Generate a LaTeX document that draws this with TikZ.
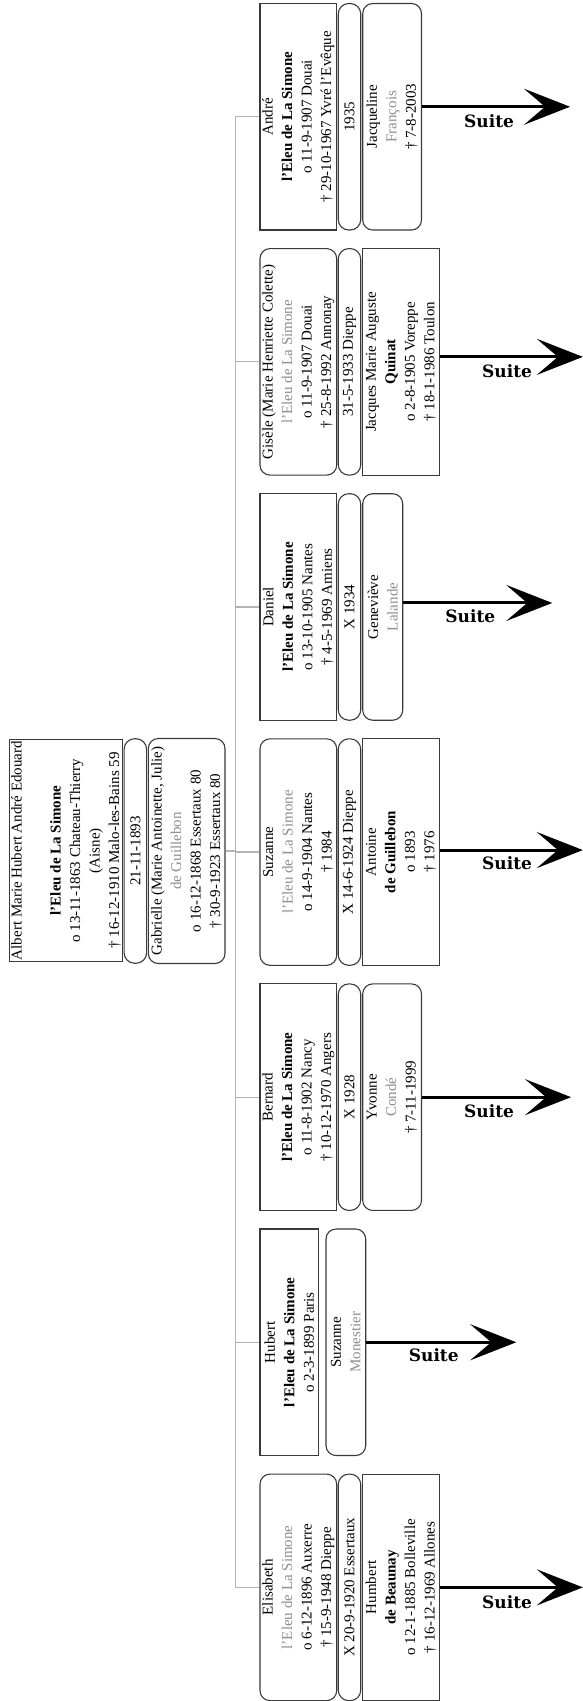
\documentclass[tikz,border=0pt]{standalone}
\usepackage{fontspec}
\setmainfont{Liberation Serif}
\newfontfamily\suitefont{DejaVu Serif}
\usetikzlibrary{arrows.meta}

\definecolor{boxline}{HTML}{3A3A3A}
\definecolor{softname}{HTML}{8E8E8E}
\definecolor{linkgray}{HTML}{B4B4B4}

\newcommand\lname[1]{\textbf{#1}}
\newcommand\gname[1]{\textcolor{softname}{#1}}

\tikzset{
  card/.style={draw=boxline, line width=1.1pt, rotate=90, inner sep=0pt,
    align=center, font=\fontsize{15}{19.5}\selectfont},
  sqcard/.style={card},
  rdcard/.style={card, rounded corners=10pt},
  pill/.style={card, rounded corners=10.5pt, minimum height=22.5pt},
  link/.style={draw=linkgray, line width=1.2pt},
  suite/.style={line width=3pt, -{Stealth[length=46pt,width=36pt,inset=21pt]}},
  suitelbl/.style={font=\suitefont\bfseries\fontsize{17}{20}\selectfont},
  rowh/.style={minimum width=226.5pt},
  wide/.style={minimum height=76.7pt},
}

\begin{document}
\begin{tikzpicture}[x=1pt,y=-1pt]
\fill[white] (0,0) rectangle (583,1701);
\useasboundingbox (0,0) rectangle (583,1701);

% parents
\node[sqcard, minimum width=222.5pt, minimum height=113.4pt] (albert) at (66,850.5)
  {Albert Marie Hubert André Edouard\\[19.5pt] \lname{l'Eleu de La Simone}\\ o 13-11-1863 Chateau-Thierry\\ (Aisne)\\ † 16-12-1910 Malo-les-Bains 59};
\node[pill, minimum width=224.5pt] (wed) at (135.35,851) {21-11-1893};
\node[rdcard, wide, minimum width=225pt] (gab) at (186.65,851)
  {Gabrielle (Marie Antoinette, Julie)\\ \gname{de Guillebon}\\ o 16-12-1868 Essertaux 80\\ † 30-9-1923 Essertaux 80};

% André
\node[sqcard, rowh, wide] (andre) at (298.35,116.75)
  {André\\ \lname{l'Eleu de La Simone}\\ o 11-9-1907 Douai\\ † 29-10-1967 Yvré l'Evêque};
\node[pill, rowh] (m0) at (349.5,116.75) {1935};
\node[rdcard, rowh, minimum height=58.8pt] (jacq) at (392.1,116.75)
  {Jacqueline\\ \gname{François}\\ † 7-8-2003};

% Gisèle
\node[rdcard, rowh, wide] (gisele) at (298.35,361.85)
  {Gisèle (Marie Henriette Colette)\\ \gname{l'Eleu de La Simone}\\ o 11-9-1907 Douai\\ † 25-8-1992 Annonay};
\node[pill, rowh] (m1) at (349.5,361.85) {31-5-1933 Dieppe};
\node[sqcard, rowh, minimum height=76.6pt] (quinat) at (401,361.85)
  {Jacques Marie Auguste\\ \lname{Quinat}\\ o 2-8-1905 Voreppe\\ † 18-1-1986 Toulon};

% Daniel
\node[sqcard, rowh, wide] (daniel) at (298.35,606.95)
  {Daniel\\ \lname{l'Eleu de La Simone}\\ o 13-10-1905 Nantes\\ † 4-5-1969 Amiens};
\node[pill, rowh] (m2) at (349.5,606.95) {X 1934};
\node[rdcard, rowh, minimum height=40pt] (genev) at (382.7,606.95)
  {Geneviève\\ \gname{Lalande}};

% Suzanne
\node[rdcard, rowh, wide] (suzanne) at (298.35,852.05)
  {Suzanne\\ \gname{l'Eleu de La Simone}\\ o 14-9-1904 Nantes\\ † 1984};
\node[pill, rowh] (m3) at (349.5,852.05) {X 14-6-1924 Dieppe};
\node[sqcard, rowh, minimum height=76.6pt] (antoine) at (401,852.05)
  {Antoine\\ \lname{de Guillebon}\\ o 1893\\ † 1976};

% Bernard
\node[sqcard, rowh, wide] (bernard) at (298.35,1097.15)
  {Bernard\\ \lname{l'Eleu de La Simone}\\ o 11-8-1902 Nancy\\ † 10-12-1970 Angers};
\node[pill, rowh] (m4) at (349.5,1097.15) {X 1928};
\node[rdcard, rowh, minimum height=58.8pt] (yvonne) at (392.1,1097.15)
  {Yvonne\\ \gname{Condé}\\ † 7-11-1999};

% Hubert
\node[sqcard, rowh, minimum height=58.3pt] (hubert) at (289.15,1342.25)
  {Hubert\\ \lname{l'Eleu de La Simone}\\ o 2-3-1899 Paris};
\node[rdcard, rowh, minimum height=39.7pt] (monest) at (345.85,1342.25)
  {Suzanne\\ \gname{Monestier}};

% Elisabeth
\node[rdcard, rowh, wide] (elisab) at (298.35,1587.35)
  {Elisabeth\\ \gname{l'Eleu de La Simone}\\ o 6-12-1896 Auxerre\\ † 15-9-1948 Dieppe};
\node[pill, rowh] (m6) at (349.5,1587.35) {X 20-9-1920 Essertaux};
\node[sqcard, rowh, minimum height=76.6pt] (beaunay) at (401,1587.35)
  {Humbert\\ \lname{de Beaunay}\\ o 12-1-1885 Bolleville\\ † 16-12-1969 Allones};

% descent lines
\foreach \c in {andre,gisele,daniel,suzanne,bernard,hubert,elisab}
  \draw[link] (gab.south) -- ++(10,0) |- (\c.north);

% continuation arrows
\draw[suite] ([yshift=10pt]jacq.south) -- ++(148,0)
  node[suitelbl, pos=0.453, yshift=-14pt] {Suite};
\draw[suite] ([yshift=5pt]quinat.south) -- ++(143,0)
  node[suitelbl, pos=0.47, yshift=-14pt] {Suite};
\draw[suite] ([yshift=4pt]genev.south) -- ++(149,0)
  node[suitelbl, pos=0.45, yshift=-13pt] {Suite};
\draw[suite] ([yshift=2pt]antoine.south) -- ++(143,0)
  node[suitelbl, pos=0.47, yshift=-13pt] {Suite};
\draw[suite] (yvonne.south) -- ++(149,0)
  node[suitelbl, pos=0.45, yshift=-14pt] {Suite};
\draw[suite] (monest.south) -- ++(150,0)
  node[suitelbl, pos=0.45, yshift=-13pt] {Suite};
\draw[suite] (beaunay.south) -- ++(143,0)
  node[suitelbl, pos=0.47, yshift=-15pt] {Suite};
\end{tikzpicture}
\end{document}
